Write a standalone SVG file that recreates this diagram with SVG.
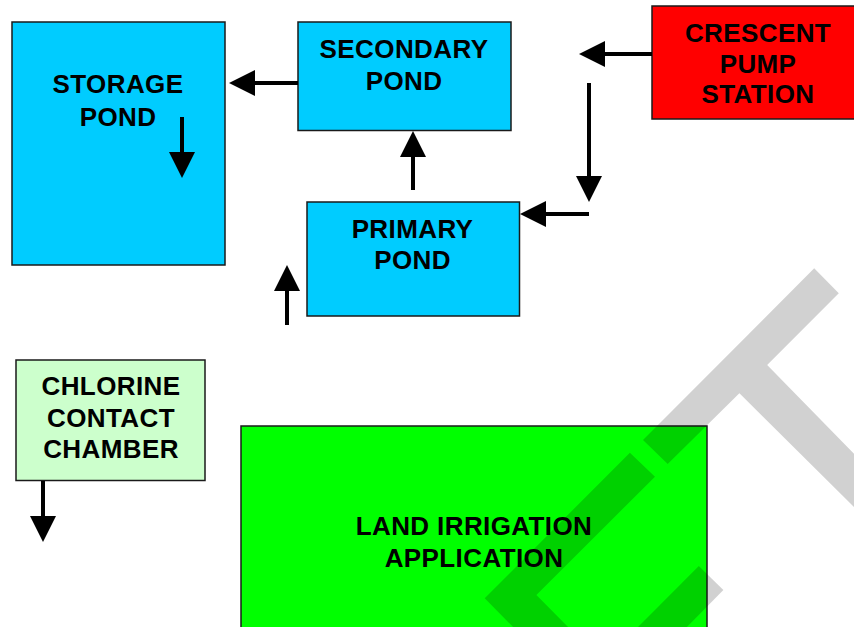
<svg xmlns="http://www.w3.org/2000/svg" width="854" height="627" viewBox="0 0 854 627">
<style>
.box{stroke:#1a1a1a;stroke-width:1.5}
.blue{fill:#00ccff}
.lbl{font-family:"Liberation Sans",Arial,sans-serif;font-weight:bold;font-size:26px;letter-spacing:0.4px;fill:#000;text-anchor:middle}
.conn line{stroke:#000;stroke-width:4;fill:none}
.wm{fill:#000;fill-opacity:0.18}
</style>
<defs>
<marker id="ah" viewBox="0 0 26 26" refX="0" refY="13" markerWidth="26" markerHeight="26" markerUnits="userSpaceOnUse" orient="auto">
<path d="M0,0 L26,13 L0,26 z" fill="#000"/>
</marker>
</defs>
<rect width="854" height="627" fill="#fff"/>
<g id="storage-pond">
<rect class="box blue" x="12" y="22" width="213" height="243"/>
<text class="lbl" x="118" y="93">STORAGE</text>
<text class="lbl" x="118" y="126">POND</text>
</g>
<g id="secondary-pond">
<rect class="box blue" x="298" y="22" width="213" height="108.5"/>
<text class="lbl" x="404" y="58">SECONDARY</text>
<text class="lbl" x="404" y="90">POND</text>
</g>
<g id="primary-pond">
<rect class="box blue" x="307" y="202" width="212.5" height="114"/>
<text class="lbl" x="412.5" y="238">PRIMARY</text>
<text class="lbl" x="412.5" y="269">POND</text>
</g>
<g id="crescent-pump-station">
<rect class="box" fill="#ff0000" x="652" y="6" width="204" height="113"/>
<text class="lbl" x="758" y="42">CRESCENT</text>
<text class="lbl" x="758" y="73">PUMP</text>
<text class="lbl" x="758" y="103">STATION</text>
</g>
<g id="chlorine-contact-chamber">
<rect class="box" fill="#ccffcc" x="16" y="360" width="189" height="120.5"/>
<text class="lbl" x="111" y="395">CHLORINE</text>
<text class="lbl" x="111" y="427">CONTACT</text>
<text class="lbl" x="111" y="458">CHAMBER</text>
</g>
<g id="land-irrigation-application">
<rect class="box" fill="#00ff00" x="241" y="426" width="466" height="210"/>
<text class="lbl" x="474" y="535">LAND IRRIGATION</text>
<text class="lbl" x="474" y="567">APPLICATION</text>
</g>
<g id="connectors" class="conn">
<line x1="298" y1="83" x2="255" y2="83" marker-end="url(#ah)"/>
<line x1="182" y1="117" x2="182" y2="152" marker-end="url(#ah)"/>
<line x1="413" y1="190" x2="413" y2="157" marker-end="url(#ah)"/>
<line x1="287" y1="325" x2="287" y2="291" marker-end="url(#ah)"/>
<line x1="652" y1="54" x2="605" y2="54" marker-end="url(#ah)"/>
<line x1="589" y1="83" x2="589" y2="176" marker-end="url(#ah)"/>
<line x1="589" y1="214" x2="546" y2="214" marker-end="url(#ah)"/>
<line x1="43" y1="481" x2="43" y2="516" marker-end="url(#ah)"/>
</g>
<g id="watermark">
<polygon class="wm" points="814.2,268.3 838.8,293.3 767.2,365 870,470 870,523 739.4,393.3 667.7,464 643,440"/>
<polygon class="wm" points="629.9,452.7 655,476.7 536.4,595 575,634 520,634 484.7,598.3"/>
<polygon class="wm" points="698.8,566 723.4,590 680,634 631,634"/>
</g>
</svg>
